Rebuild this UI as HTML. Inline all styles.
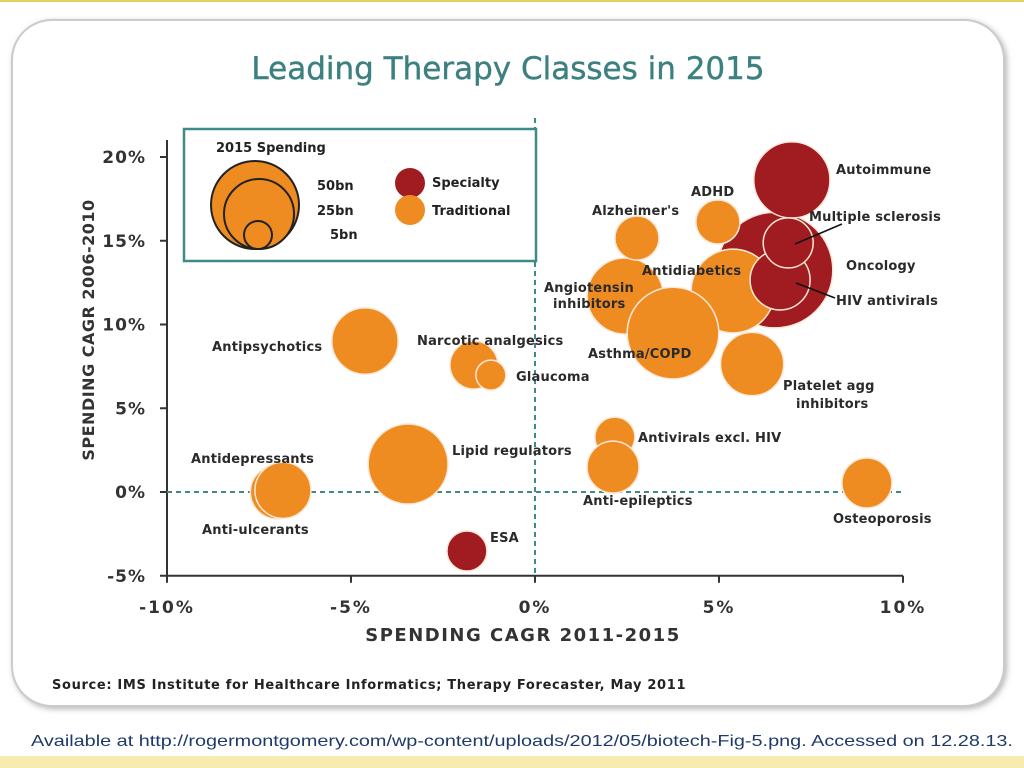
<!DOCTYPE html>
<html><head><meta charset="utf-8"><style>
html,body{margin:0;padding:0;background:#fff;}
body{width:1024px;height:768px;position:relative;overflow:hidden;font-family:"DejaVu Sans","Liberation Sans",sans-serif;}
</style></head><body>
<div style="position:absolute;left:0;top:0;width:1024px;height:2px;background:#e8d060"></div>
<div style="position:absolute;left:0;top:756px;width:1024px;height:12px;background:#f7ecb0"></div>
<div style="position:absolute;left:31px;top:733px;font-family:'Liberation Sans',sans-serif;font-size:16px;color:#1f3a6a;white-space:nowrap;transform:scaleX(1.24);transform-origin:0 0">Available at http://rogermontgomery.com/wp-content/uploads/2012/05/biotech-Fig-5.png. Accessed on 12.28.13.</div>
<svg id="chart" width="1024" height="730" style="position:absolute;left:0;top:0">
<defs><filter id="sh" x="-5%" y="-5%" width="110%" height="110%"><feDropShadow dx="2" dy="2" stdDeviation="3" flood-color="#888" flood-opacity="0.6"/></filter></defs>
<rect x="12" y="20" width="992" height="686" rx="40" fill="#fff" stroke="#c8cccc" stroke-width="2" filter="url(#sh)"/>
<text x="508" y="79" text-anchor="middle" font-family="DejaVu Sans, sans-serif" font-size="31" fill="#3d8080" stroke="#3d8080" stroke-width="0.4">Leading Therapy Classes in 2015</text>
<g id="axes"></g>
<g id="bubbles"></g>
<g id="labels" font-size="13" font-weight="bold" letter-spacing="0.2" fill="#2a2a2a"></g>
<g font-weight="bold" font-size="13" fill="#222">
<rect x="184" y="129" width="352" height="132" fill="#fff" stroke="#3d8a86" stroke-width="2.5"/>
<text x="216" y="152">2015 Spending</text>
<circle cx="255" cy="205" r="44" fill="#ee8c22" stroke="#222" stroke-width="2"/>
<circle cx="259" cy="214" r="35" fill="#ee8c22" stroke="#222" stroke-width="2"/>
<circle cx="258" cy="235" r="14" fill="#ee8c22" stroke="#222" stroke-width="2"/>
<text x="317" y="190">50bn</text>
<text x="317" y="215">25bn</text>
<text x="330" y="239">5bn</text>
<circle cx="410" cy="183" r="15" fill="#a01c20"/>
<circle cx="410" cy="210" r="15" fill="#ee8c22"/>
<text x="432" y="187">Specialty</text>
<text x="432" y="215">Traditional</text>
</g>
<text x="523" y="641" text-anchor="middle" font-size="18" font-weight="bold" fill="#333" letter-spacing="1.5">SPENDING CAGR 2011-2015</text>
<text transform="translate(94,330) rotate(-90)" text-anchor="middle" font-size="16" font-weight="bold" fill="#333" letter-spacing="0.5">SPENDING CAGR 2006-2010</text>
<text x="52" y="689" font-size="13" font-weight="bold" letter-spacing="0.65" fill="#222">Source: IMS Institute for Healthcare Informatics; Therapy Forecaster, May 2011</text>
</svg>
<script>
const names=["Oncology","Antidiabetics","Angiotensin inhibitors","Asthma/COPD","Autoimmune","HIV antivirals","Multiple sclerosis","ADHD","Alzheimer's","Platelet agg inhibitors","Antipsychotics","Narcotic analgesics","Glaucoma","Lipid regulators","Antivirals excl. HIV","Anti-epileptics","Anti-ulcerants","Antidepressants","ESA","Osteoporosis"];
const xVals=[6.52,5.38,2.45,3.75,6.98,6.66,6.88,4.97,2.77,5.9,-4.62,-1.66,-1.2,-3.45,2.17,2.12,-7.0,-6.85,-1.85,9.02];
const yVals=[13.25,12.0,11.7,9.49,18.63,12.66,14.87,16.12,15.16,7.64,9.01,7.58,6.98,1.67,3.28,1.49,0.0,0.1,-3.52,0.54];
const spend=[67,35,29,42,29,18,12.5,9.7,9.7,20,22,11.5,4.5,32,8,13.5,14.6,15.7,8,12.5];
const specialty=[1,0,0,0,1,1,1,0,0,0,0,0,0,0,0,0,0,0,1,0];
const xTicks=[-10,-5,0,5,10];
const yTicks=[-5,0,5,10,15,20];
const xTickLabels=["-10%","-5%","0%","5%","10%"];
const yTickLabels=["-5%","0%","5%","10%","15%","20%"];
const NS="http://www.w3.org/2000/svg";
const xs=v=>535+v*36.8, ys=v=>492-v*16.75, rs=v=>7.07*Math.sqrt(v);
function mk(t,a,p){const e=document.createElementNS(NS,t);for(const k in a)e.setAttribute(k,a[k]);p.appendChild(e);return e;}
const ax=document.getElementById('axes');
let l=mk('line',{x1:xs(-10),y1:ys(-5),x2:xs(-10),y2:140,stroke:'#333','stroke-width':2},ax);


l=mk('line',{x1:xs(-10),y1:ys(-5),x2:xs(10),y2:ys(-5),stroke:'#333','stroke-width':2},ax);


l=mk('line',{x1:xs(0),y1:118,x2:xs(0),y2:ys(-5),stroke:'#3d8a86','stroke-width':2,'stroke-dasharray':'5,4'},ax);


l=mk('line',{x1:xs(-10),y1:ys(0),x2:xs(10),y2:ys(0),stroke:'#3d8a86','stroke-width':2,'stroke-dasharray':'5,4'},ax);


xTicks.forEach((v,i)=>{mk('line',{x1:xs(v),y1:ys(-5),x2:xs(v),y2:ys(-5)+7,stroke:'#333','stroke-width':2},ax);
const t=mk('text',{x:xs(v),y:613,'text-anchor':'middle','font-size':17,'font-weight':'bold','letter-spacing':2,fill:'#333'},ax);t.textContent=xTickLabels[i];

});
yTicks.forEach((v,i)=>{mk('line',{x1:xs(-10)-7,y1:ys(v),x2:xs(-10),y2:ys(v),stroke:'#333','stroke-width':2},ax);
const t=mk('text',{x:146,y:ys(v)+6,'text-anchor':'end','font-size':17,'font-weight':'bold','letter-spacing':1,fill:'#333'},ax);t.textContent=yTickLabels[i];

});
const bg=document.getElementById('bubbles');
names.forEach((n,i)=>{const c=mk('circle',{cx:xs(xVals[i]),cy:ys(yVals[i]),r:rs(spend[i]),fill:specialty[i]?'#a01c20':'#ee8c22',stroke:'#fde8d8','stroke-width':1.5},bg);

});
mk('line',{x1:795,y1:244,x2:842,y2:224,stroke:'#111','stroke-width':1.5},bg);
mk('line',{x1:796,y1:283,x2:835,y2:298,stroke:'#111','stroke-width':1.5},bg);
const labs=[["Autoimmune",836,174],["ADHD",691,196],["Alzheimer's",592,215],["Multiple sclerosis",809,221],["Oncology",846,270],["Antidiabetics",642,275],["Angiotensin",544,292],["inhibitors",553,308],["HIV antivirals",836,305],["Antipsychotics",212,351],["Narcotic analgesics",417,345],["Asthma/COPD",588,358],["Glaucoma",516,381],["Platelet agg",783,390],["inhibitors",796,408],["Antivirals excl. HIV",638,442],["Lipid regulators",452,455],["Antidepressants",191,463],["Anti-epileptics",583,505],["Osteoporosis",833,523],["Anti-ulcerants",202,534],["ESA",490,542]];
const lg=document.getElementById('labels');
labs.forEach(a=>{const t=mk('text',{x:a[1],y:a[2]},lg);t.textContent=a[0];

});
</script>
</body></html>
